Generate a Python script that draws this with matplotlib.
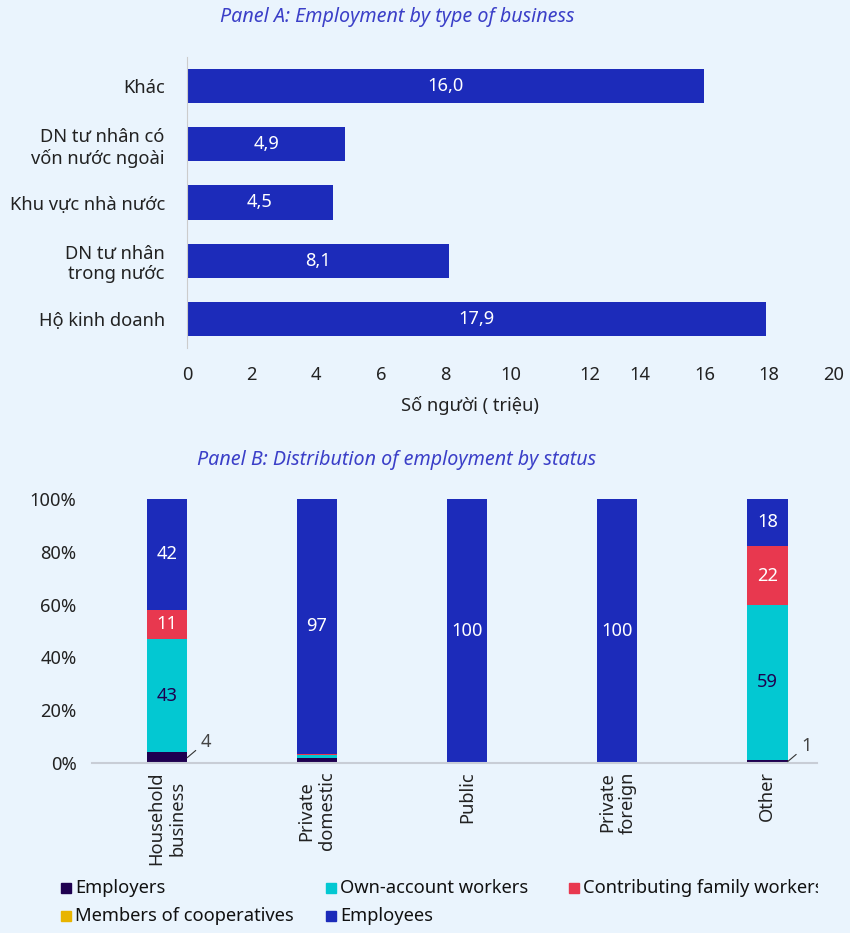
import matplotlib
matplotlib.use("Agg")
import matplotlib.pyplot as plt
from matplotlib.patches import Rectangle
import matplotlib.transforms as mtransforms

plt.rcParams['font.family'] = ['Noto Sans', 'DejaVu Sans']

# ---- Panel A data ----
a_categories = ["Hộ kinh doanh", "DN tư nhân\ntrong nước", "Khu vực nhà nước",
                "DN tư nhân có\nvốn nước ngoài", "Khác"]
a_values = [17.9, 8.1, 4.5, 4.9, 16.0]
a_ticks = [0, 2, 4, 6, 8, 10, 12, 14, 16, 18, 20]

# ---- Panel B data ----
b_categories = ["Household\nbusiness", "Private\ndomestic", "Public", "Private\nforeign", "Other"]
employers = [4, 2, 0, 0, 1]
own_account = [43, 1, 0, 0, 59]
contributing = [11, 0.3, 0, 0, 22]
cooperatives = [0, 0, 0, 0, 0.3]
employees = [42, 97, 100, 100, 18]
b_yticks = [0, 20, 40, 60, 80, 100]

BG = "#EAF4FD"
C_EMP = "#1E0050"
C_OWN = "#03C8D2"
C_CON = "#E8384F"
C_COOP = "#E8B400"
C_EE = "#1C2BBA"
TITLE_C = "#3B3FC8"
FS = 13.2

fig = plt.figure(figsize=(8.5, 9.33), dpi=100, facecolor=BG)

# ---------- Panel A ----------
axA = fig.add_axes([0.22, 0.627, 0.761, 0.312], facecolor=BG)
ypos = list(range(len(a_categories)))
axA.barh(ypos, a_values, height=0.59, color=C_EE)
for y, v in zip(ypos, a_values):
    axA.text(v / 2, y, f"{v:.1f}".replace(".", ","), ha="center", va="center",
             color="white", fontsize=FS)
axA.set_xlim(0, 20)
axA.set_ylim(-0.5, 4.5)
axA.set_yticks(ypos)
axA.set_yticklabels(a_categories, fontsize=FS, color="#222222")
axA.set_xticks(a_ticks)
axA.set_xticklabels([str(t) for t in a_ticks], fontsize=FS, color="#222222")
axA.tick_params(axis="both", length=0)
axA.tick_params(axis="x", pad=13)
axA.tick_params(axis="y", pad=16)
lbl12 = axA.get_xticklabels()[a_ticks.index(12)]
lbl12.set_transform(lbl12.get_transform() +
                    mtransforms.ScaledTranslation(15 / 100, 0, fig.dpi_scale_trans))
for s in ["top", "right", "bottom"]:
    axA.spines[s].set_visible(False)
axA.spines["left"].set_color("#CCCCCC")
axA.set_xlabel("Số người ( triệu)", fontsize=FS, color="#222222", labelpad=5)
axA.xaxis.set_label_coords((470 - 187) / (834 - 187), -0.165)
fig.text(397 / 850, 1 - 17 / 933, "Panel A: Employment by type of business",
         ha="center", va="center", fontsize=14.2, style="italic", color=TITLE_C)

# ---------- Panel B ----------
axB = fig.add_axes([0.108, 0.1822, 0.853, 0.283], facecolor=BG)
x = list(range(len(b_categories)))
w = 0.27
bottom = [0] * 5
series = [(employers, C_EMP), (own_account, C_OWN), (contributing, C_CON),
          (cooperatives, C_COOP), (employees, C_EE)]
for vals, col in series:
    axB.bar(x, vals, w, bottom=bottom, color=col)
    bottom = [b + v for b, v in zip(bottom, vals)]

def seg_label(i, base, v, color):
    axB.text(i, base + v / 2, f"{v:g}", ha="center", va="center", fontsize=FS, color=color)

for i in range(5):
    b0 = employers[i]
    if own_account[i] >= 5:
        seg_label(i, b0, own_account[i], "#1E0050")
    b1 = b0 + own_account[i]
    if contributing[i] >= 5:
        seg_label(i, b1, contributing[i], "white")
    b2 = b1 + contributing[i] + cooperatives[i]
    if employees[i] >= 5:
        seg_label(i, b2, employees[i], "white")

for i in [0, 4]:
    v = employers[i]
    axB.annotate(f"{v:g}", xy=(i + w / 2, v / 2), xytext=(i + w / 2 + 0.09, v / 2 + 6),
                 fontsize=FS, color="#444444", ha="left", va="center",
                 arrowprops=dict(arrowstyle="-", color="#333333", lw=0.8,
                                 shrinkA=2, shrinkB=0))

axB.set_xlim(-0.5, 4.33)
axB.set_ylim(0, 100)
axB.set_yticks(b_yticks)
axB.set_yticklabels([f"{t}%" for t in b_yticks], fontsize=FS, color="#222222")
axB.set_xticks(x)
axB.set_xticklabels(b_categories, rotation=90, fontsize=FS, color="#222222",
                    ha="center", va="top", multialignment="center")
axB.tick_params(axis="both", length=0)
axB.tick_params(axis="y", pad=11)
axB.tick_params(axis="x", pad=6)
for s in ["top", "right", "left"]:
    axB.spines[s].set_visible(False)
axB.spines["bottom"].set_color("#C8CDD6")
axB.spines["bottom"].set_linewidth(1.5)
fig.text(397 / 850, 1 - 460 / 933, "Panel B: Distribution of employment by status",
         ha="center", va="center", fontsize=14.2, style="italic", color=TITLE_C)

# ---------- Legend (manual, row-major) ----------
leg = [("Employers", C_EMP, 62, 888), ("Own-account workers", C_OWN, 327, 888),
       ("Contributing family workers", C_CON, 570, 888),
       ("Members of cooperatives", C_COOP, 62, 916), ("Employees", C_EE, 327, 916)]
clip_rect = Rectangle((0, 0), 818 / 850, 1, transform=fig.transFigure, facecolor="none",
                      edgecolor="none")
for name, col, px, py in leg:
    fig.patches.append(Rectangle(((px - 1) / 850, 1 - (py + 5) / 933), 10 / 850, 10 / 933,
                                 transform=fig.transFigure, color=col, figure=fig))
    t = fig.text((px + 13) / 850, 1 - py / 933, name, ha="left", va="center",
                 fontsize=FS, color="#111111")
    t.set_clip_path(clip_rect)
    t.set_clip_on(True)

fig.savefig("out.png", dpi=100, facecolor=BG)
